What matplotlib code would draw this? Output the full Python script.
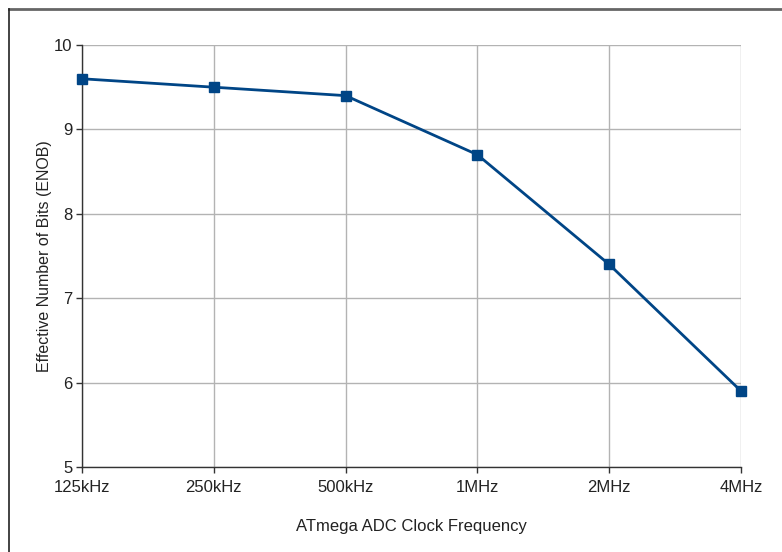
import matplotlib
matplotlib.use("Agg")
import matplotlib.pyplot as plt
from matplotlib.lines import Line2D

categories = ["125kHz", "250kHz", "500kHz", "1MHz", "2MHz", "4MHz"]
enob = [9.6, 9.5, 9.4, 8.7, 7.4, 5.9]
y_ticks = [5, 6, 7, 8, 9, 10]

plt.rcParams['font.family'] = ['Liberation Sans', 'DejaVu Sans']

fig = plt.figure(figsize=(7.82, 5.52), dpi=100)
ax = fig.add_axes([82/782, 1-467/552, (741-82)/782, (467-45)/552])

x = list(range(len(categories)))
ax.plot(x, enob, color='#004586', linewidth=2, marker='s', markersize=7,
        markerfacecolor='#004586', markeredgecolor='#004586', zorder=3, clip_on=False)

ax.set_xlim(0, len(categories)-1)
ax.set_ylim(5, 10)
ax.set_xticks(x)
ax.set_xticklabels(categories)
ax.set_yticks(y_ticks)
ax.grid(True, color='#b3b3b3', linewidth=1)
ax.set_axisbelow(True)
for s in ['top', 'right']:
    ax.spines[s].set_visible(False)
for s in ['left', 'bottom']:
    ax.spines[s].set_color('#333333')
    ax.spines[s].set_linewidth(1)
ax.tick_params(axis='both', direction='out', length=4, width=1, color='#333333',
               labelsize=12, labelcolor='#222222')
ax.tick_params(axis='x', pad=5)
ax.tick_params(axis='y', pad=3)
ax.set_xlabel('ATmega ADC Clock Frequency', fontsize=12, color='#222222', labelpad=18)
ax.set_ylabel('Effective Number of Bits (ENOB)', fontsize=11.5, color='#222222', labelpad=1)

# outer frame (top and left edges visible)
fig.add_artist(Line2D([9/782, 1], [1-9/552, 1-9/552], transform=fig.transFigure,
                      color='#666666', linewidth=2))
fig.add_artist(Line2D([9/782, 9/782], [0, 1-9/552], transform=fig.transFigure,
                      color='#222222', linewidth=1.2))

fig.savefig('out.png', dpi=100)
